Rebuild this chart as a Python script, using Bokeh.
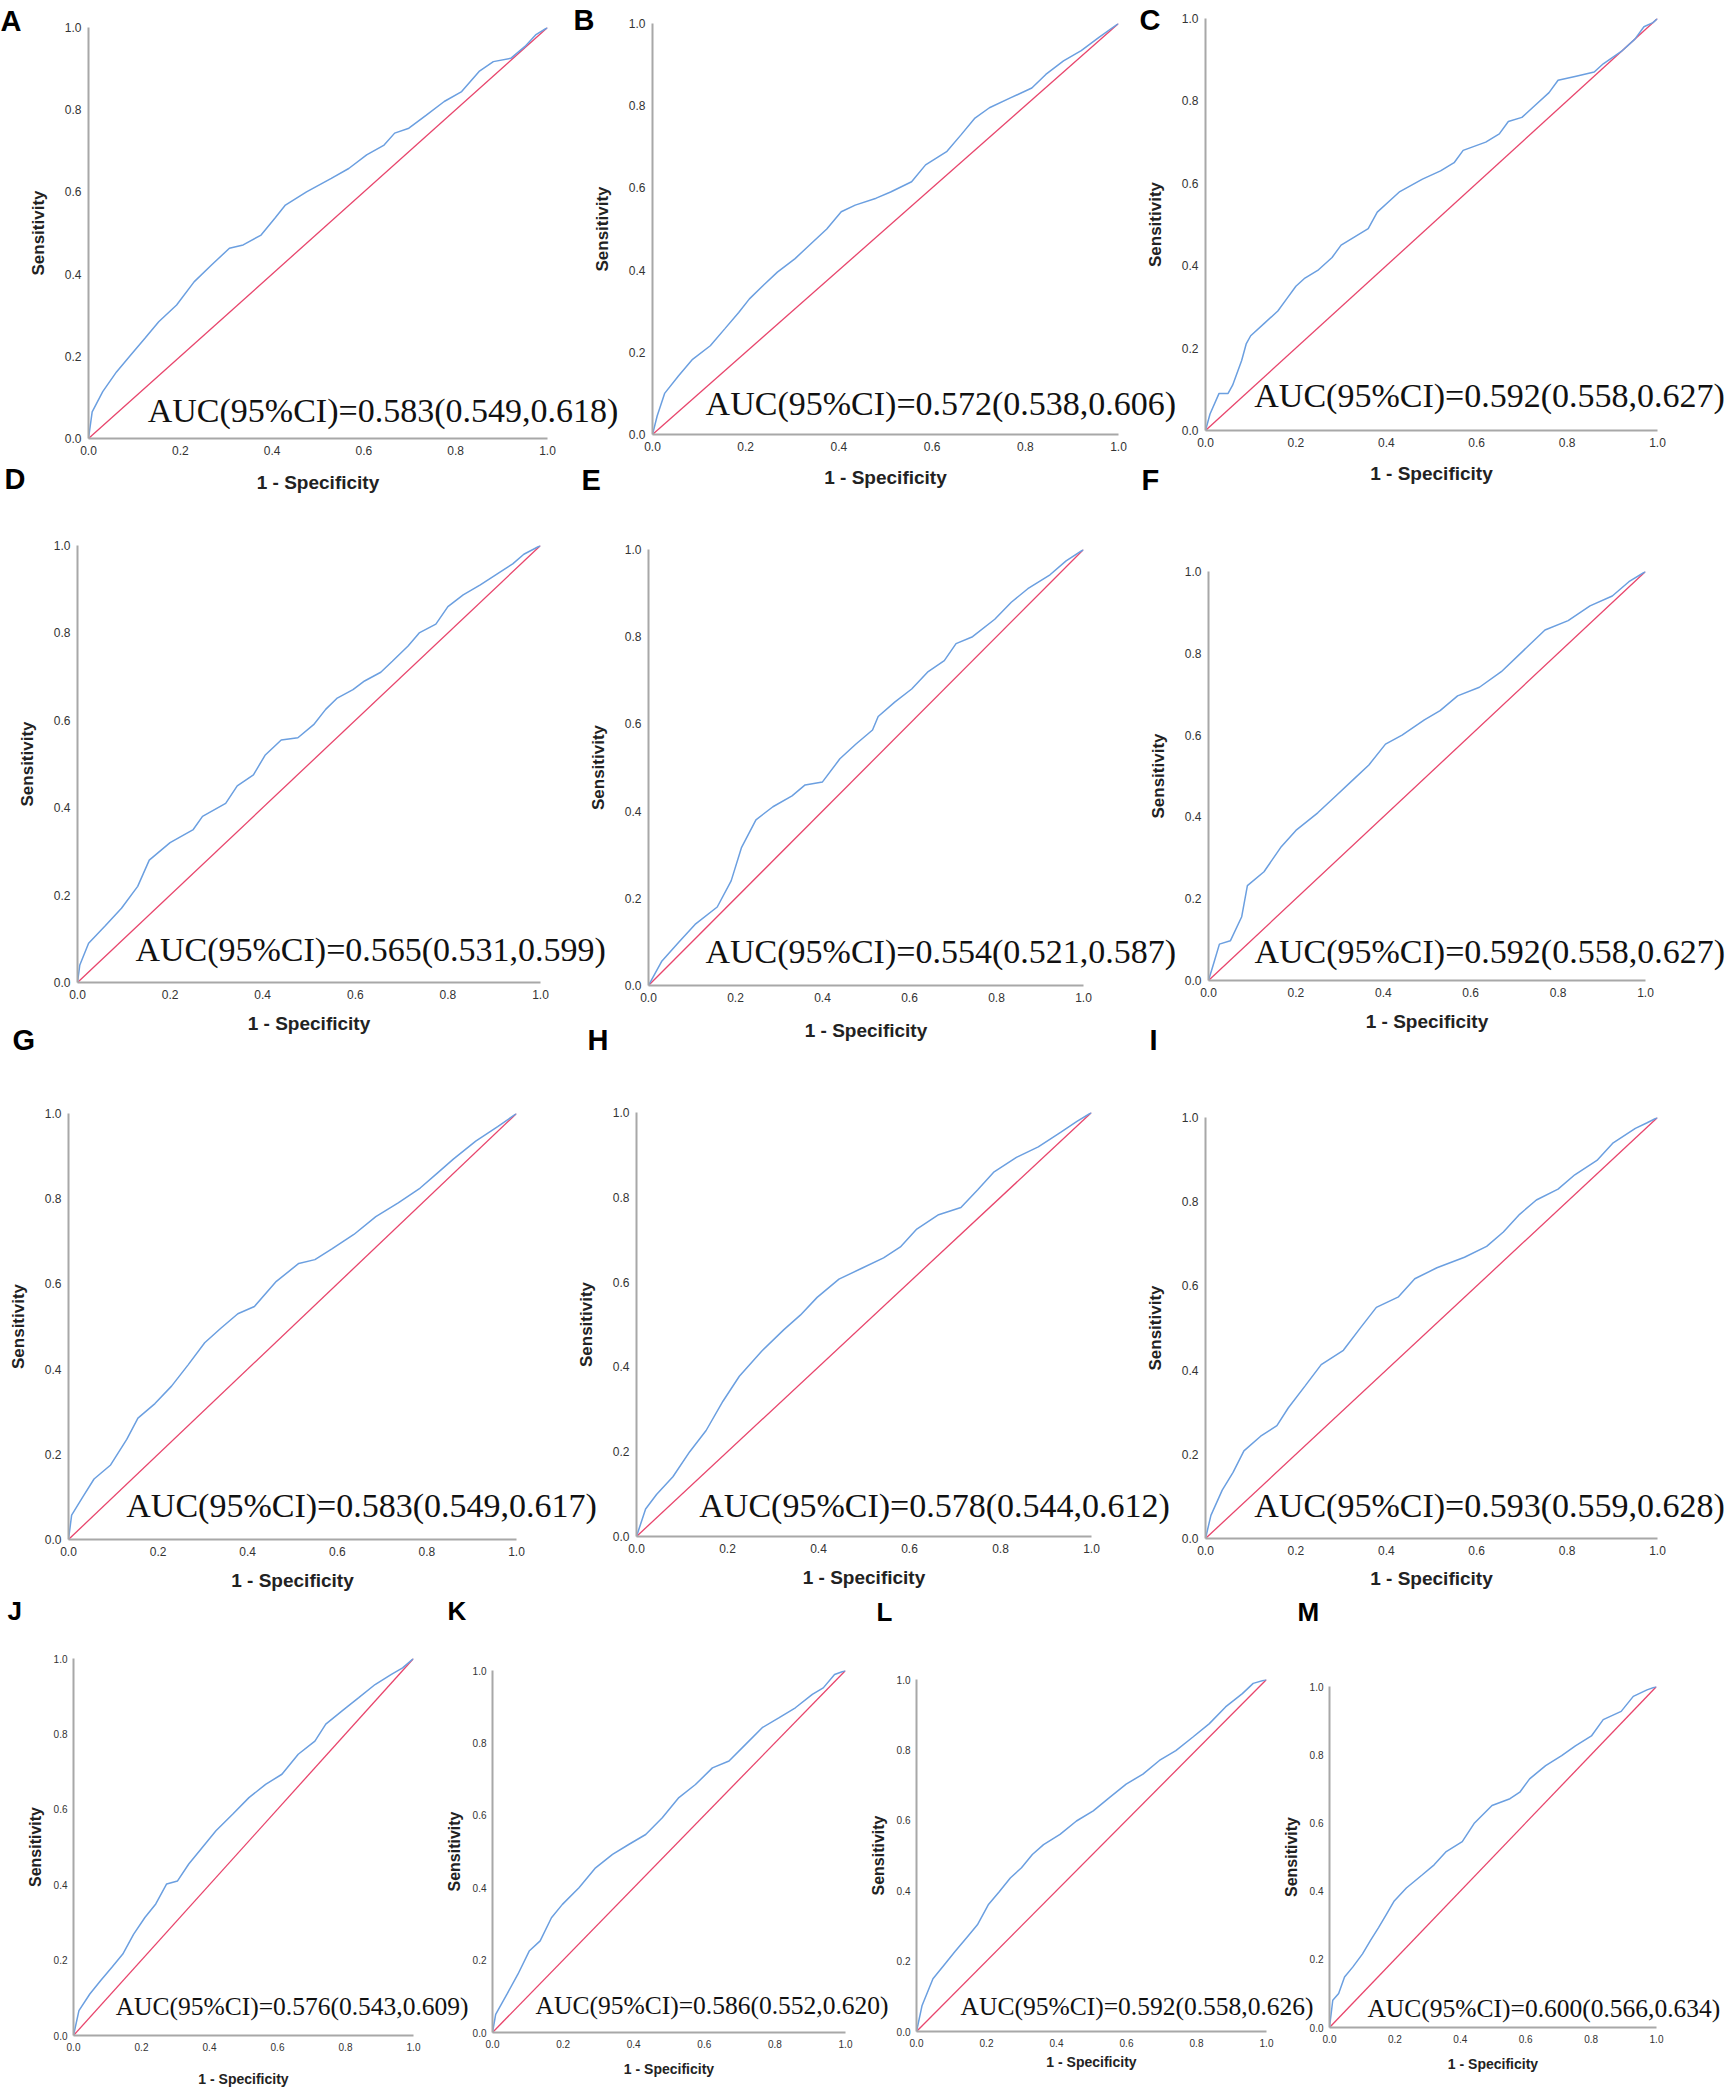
from bokeh.plotting import figure
from bokeh.models import Range1d, FixedTicker, NumeralTickFormatter, Label
from bokeh.layouts import column
from bokeh.embed import file_html
from bokeh.resources import INLINE

# ---------------- data ----------------
panel_names = ["A", "B", "C", "D", "E", "F", "G", "H", "I", "J", "K", "L", "M"]

auc_texts = [
    "AUC(95%CI)=0.583(0.549,0.618)",
    "AUC(95%CI)=0.572(0.538,0.606)",
    "AUC(95%CI)=0.592(0.558,0.627)",
    "AUC(95%CI)=0.565(0.531,0.599)",
    "AUC(95%CI)=0.554(0.521,0.587)",
    "AUC(95%CI)=0.592(0.558,0.627)",
    "AUC(95%CI)=0.583(0.549,0.617)",
    "AUC(95%CI)=0.578(0.544,0.612)",
    "AUC(95%CI)=0.593(0.559,0.628)",
    "AUC(95%CI)=0.576(0.543,0.609)",
    "AUC(95%CI)=0.586(0.552,0.620)",
    "AUC(95%CI)=0.592(0.558,0.626)",
    "AUC(95%CI)=0.600(0.566,0.634)",
]

tick_values = [0.0, 0.2, 0.4, 0.6, 0.8, 1.0]
ref_line = [0.0, 1.0]

A_x = [0, 0.008, 0.031, 0.061, 0.092, 0.123, 0.153, 0.192, 0.23, 0.268, 0.307, 0.337, 0.376, 0.406, 0.429, 0.475, 0.529, 0.567, 0.606, 0.644, 0.667, 0.698, 0.736, 0.775, 0.813, 0.851, 0.882, 0.92, 0.951, 0.974, 1.0]
A_y = [0, 0.065, 0.114, 0.162, 0.203, 0.244, 0.284, 0.325, 0.381, 0.422, 0.463, 0.471, 0.495, 0.536, 0.568, 0.60, 0.633, 0.657, 0.69, 0.714, 0.743, 0.755, 0.787, 0.82, 0.844, 0.893, 0.917, 0.925, 0.954, 0.982, 1.0]

B_x = [0, 0.01, 0.026, 0.056, 0.086, 0.124, 0.155, 0.185, 0.208, 0.238, 0.268, 0.306, 0.336, 0.374, 0.405, 0.435, 0.48, 0.511, 0.556, 0.586, 0.632, 0.662, 0.692, 0.723, 0.768, 0.814, 0.844, 0.882, 0.92, 0.958, 1.0]
B_y = [0, 0.045, 0.10, 0.143, 0.183, 0.216, 0.257, 0.297, 0.33, 0.363, 0.395, 0.428, 0.46, 0.50, 0.542, 0.558, 0.575, 0.59, 0.615, 0.656, 0.689, 0.729, 0.77, 0.795, 0.819, 0.843, 0.876, 0.909, 0.934, 0.966, 1.0]

C_x = [0, 0.01, 0.03, 0.05, 0.06, 0.08, 0.09, 0.1, 0.13, 0.16, 0.18, 0.2, 0.22, 0.25, 0.28, 0.3, 0.33, 0.36, 0.38, 0.41, 0.43, 0.48, 0.52, 0.55, 0.57, 0.62, 0.65, 0.67, 0.7, 0.73, 0.76, 0.78, 0.82, 0.86, 0.88, 0.92, 0.95, 0.97, 0.99, 1.0]
C_y = [0, 0.04, 0.09, 0.09, 0.11, 0.17, 0.21, 0.23, 0.26, 0.29, 0.32, 0.35, 0.37, 0.39, 0.42, 0.45, 0.47, 0.49, 0.53, 0.56, 0.58, 0.61, 0.63, 0.65, 0.68, 0.70, 0.72, 0.75, 0.76, 0.79, 0.82, 0.85, 0.86, 0.87, 0.89, 0.92, 0.95, 0.98, 0.99, 1.0]

D_x = [0, 0.005, 0.024, 0.06, 0.095, 0.13, 0.155, 0.2, 0.25, 0.27, 0.32, 0.345, 0.38, 0.405, 0.44, 0.476, 0.51, 0.536, 0.56, 0.595, 0.62, 0.655, 0.68, 0.714, 0.738, 0.774, 0.8, 0.833, 0.87, 0.905, 0.94, 0.964, 1.0]
D_y = [0, 0.04, 0.09, 0.13, 0.17, 0.22, 0.28, 0.32, 0.35, 0.38, 0.41, 0.45, 0.475, 0.52, 0.555, 0.56, 0.59, 0.625, 0.65, 0.67, 0.69, 0.71, 0.735, 0.77, 0.80, 0.82, 0.86, 0.887, 0.91, 0.934, 0.958, 0.98, 1.0]

E_x = [0, 0.03, 0.07, 0.107, 0.158, 0.19, 0.214, 0.247, 0.286, 0.33, 0.36, 0.40, 0.44, 0.477, 0.515, 0.528, 0.566, 0.605, 0.643, 0.68, 0.707, 0.745, 0.796, 0.834, 0.872, 0.923, 0.96, 1.0]
E_y = [0, 0.055, 0.10, 0.14, 0.18, 0.24, 0.317, 0.38, 0.41, 0.435, 0.46, 0.467, 0.52, 0.554, 0.586, 0.617, 0.65, 0.68, 0.72, 0.745, 0.784, 0.80, 0.84, 0.879, 0.91, 0.942, 0.974, 1.0]

F_x = [0, 0.013, 0.025, 0.05, 0.076, 0.089, 0.127, 0.165, 0.2, 0.25, 0.29, 0.33, 0.367, 0.405, 0.443, 0.494, 0.53, 0.57, 0.62, 0.67, 0.72, 0.77, 0.823, 0.873, 0.924, 0.962, 1.0]
F_y = [0, 0.046, 0.089, 0.097, 0.156, 0.232, 0.266, 0.325, 0.367, 0.41, 0.45, 0.49, 0.527, 0.578, 0.60, 0.637, 0.66, 0.696, 0.717, 0.755, 0.806, 0.857, 0.88, 0.916, 0.94, 0.975, 1.0]

G_x = [0, 0.007, 0.032, 0.057, 0.094, 0.13, 0.155, 0.193, 0.23, 0.267, 0.304, 0.34, 0.378, 0.415, 0.464, 0.514, 0.55, 0.588, 0.637, 0.686, 0.736, 0.785, 0.822, 0.859, 0.909, 0.958, 1.0]
G_y = [0, 0.057, 0.10, 0.142, 0.175, 0.235, 0.285, 0.319, 0.36, 0.41, 0.462, 0.496, 0.53, 0.547, 0.606, 0.648, 0.657, 0.682, 0.716, 0.758, 0.79, 0.825, 0.859, 0.893, 0.935, 0.969, 1.0]

H_x = [0, 0.02, 0.044, 0.08, 0.117, 0.153, 0.19, 0.226, 0.275, 0.324, 0.36, 0.397, 0.445, 0.494, 0.543, 0.58, 0.616, 0.664, 0.713, 0.75, 0.786, 0.835, 0.883, 0.932, 0.968, 1.0]
H_y = [0, 0.065, 0.099, 0.141, 0.20, 0.25, 0.319, 0.378, 0.437, 0.488, 0.522, 0.564, 0.607, 0.632, 0.657, 0.683, 0.725, 0.759, 0.776, 0.818, 0.86, 0.894, 0.919, 0.953, 0.979, 1.0]

I_x = [0, 0.012, 0.037, 0.061, 0.085, 0.122, 0.158, 0.183, 0.22, 0.256, 0.305, 0.341, 0.378, 0.427, 0.463, 0.512, 0.573, 0.622, 0.659, 0.695, 0.732, 0.78, 0.817, 0.866, 0.902, 0.951, 0.976, 1.0]
I_y = [0, 0.055, 0.115, 0.157, 0.208, 0.243, 0.268, 0.31, 0.362, 0.413, 0.447, 0.498, 0.549, 0.574, 0.617, 0.643, 0.668, 0.694, 0.728, 0.77, 0.804, 0.83, 0.864, 0.898, 0.94, 0.974, 0.987, 1.0]

J_x = [0, 0.016, 0.048, 0.08, 0.113, 0.145, 0.177, 0.21, 0.242, 0.274, 0.306, 0.339, 0.371, 0.419, 0.468, 0.516, 0.565, 0.613, 0.661, 0.71, 0.742, 0.79, 0.839, 0.887, 0.935, 0.968, 1.0]
J_y = [0, 0.066, 0.11, 0.146, 0.181, 0.216, 0.269, 0.313, 0.349, 0.402, 0.41, 0.455, 0.49, 0.543, 0.587, 0.631, 0.666, 0.693, 0.746, 0.781, 0.826, 0.861, 0.896, 0.931, 0.958, 0.975, 1.0]

K_x = [0, 0.009, 0.041, 0.072, 0.104, 0.135, 0.167, 0.198, 0.245, 0.292, 0.34, 0.387, 0.434, 0.481, 0.528, 0.575, 0.623, 0.67, 0.717, 0.764, 0.811, 0.858, 0.906, 0.937, 0.969, 1.0]
K_y = [0, 0.05, 0.106, 0.161, 0.225, 0.253, 0.317, 0.354, 0.40, 0.455, 0.492, 0.52, 0.547, 0.593, 0.649, 0.685, 0.731, 0.75, 0.796, 0.842, 0.869, 0.897, 0.934, 0.952, 0.989, 1.0]

L_x = [0, 0.016, 0.047, 0.079, 0.11, 0.142, 0.174, 0.205, 0.237, 0.268, 0.30, 0.331, 0.363, 0.41, 0.457, 0.505, 0.552, 0.599, 0.647, 0.694, 0.741, 0.789, 0.836, 0.883, 0.931, 0.962, 1.0]
L_y = [0, 0.074, 0.15, 0.189, 0.227, 0.265, 0.303, 0.36, 0.398, 0.436, 0.465, 0.503, 0.531, 0.56, 0.598, 0.627, 0.665, 0.703, 0.731, 0.77, 0.798, 0.836, 0.874, 0.922, 0.96, 0.989, 1.0]

M_x = [0, 0.01, 0.028, 0.046, 0.071, 0.101, 0.125, 0.15, 0.174, 0.198, 0.235, 0.284, 0.32, 0.357, 0.406, 0.442, 0.497, 0.552, 0.582, 0.612, 0.661, 0.71, 0.752, 0.801, 0.837, 0.892, 0.929, 0.971, 1.0]
M_y = [0, 0.08, 0.10, 0.148, 0.177, 0.216, 0.255, 0.293, 0.332, 0.371, 0.409, 0.448, 0.477, 0.516, 0.545, 0.598, 0.651, 0.671, 0.69, 0.729, 0.768, 0.797, 0.826, 0.855, 0.903, 0.927, 0.971, 0.99, 1.0]

curves_x = [A_x, B_x, C_x, D_x, E_x, F_x, G_x, H_x, I_x, J_x, K_x, L_x, M_x]
curves_y = [A_y, B_y, C_y, D_y, E_y, F_y, G_y, H_y, I_y, J_y, K_y, L_y, M_y]

# ---------------- layout (page pixels: left, right, top, bottom of each plot frame) ----------------
frames = [
    (88, 547, 27, 438), (652, 1118, 23, 434), (1205, 1657, 18, 430),
    (77, 540, 545, 982), (648, 1083, 549, 985), (1208, 1645, 571, 980),
    (68, 516, 1113, 1539), (636, 1091, 1112, 1536), (1205, 1657, 1117, 1538),
    (73, 413, 1658, 2035), (492, 845, 1670, 2032), (916, 1266, 1679, 2031),
    (1329, 1656, 1686, 2027),
]
# AUC annotation anchor (in data units of each panel: left edge / baseline)
auc_pos = [
    (0.129, 0.039), (0.114, 0.046), (0.108, 0.056),
    (0.125, 0.048), (0.131, 0.050), (0.105, 0.042),
    (0.129, 0.052), (0.138, 0.045), (0.108, 0.050),
    (0.124, 0.053), (0.122, 0.049), (0.126, 0.045), (0.116, 0.030),
]
# panel letter: page pixel left edge and baseline
letter_px = [
    (0, 31), (573, 30), (1139, 30),
    (4, 489), (581, 490), (1141, 490),
    (12, 1050), (587, 1050), (1149, 1050),
    (7, 1620), (447, 1620), (876, 1621), (1297, 1621),
]
xlabel_standoff = [14, 13, 13, 11, 15, 11, 11, 11, 10, 17, 10, 4, 10]

W, H = 1727, 2091
BASELINE_FIX = 0.36   # measured drift of the svg alphabetic baseline, as a fraction of font size

BLUE = "#6b9fe0"
RED = "#e8456c"
AXIS = "#a8a8a8"

figs = []
for i, name in enumerate(panel_names):
    x0, x1, yt, yb = frames[i]
    small = name in "JKLM"
    p = figure(width=W, height=H, x_range=Range1d(0, 1), y_range=Range1d(0, 1),
               output_backend="svg", toolbar_location=None,
               min_border_left=x0, min_border_right=W - x1,
               min_border_top=yt, min_border_bottom=H - yb)
    p.frame_align = False
    p.background_fill_color = None
    p.border_fill_color = None
    p.outline_line_color = None
    p.grid.visible = False

    p.xaxis.axis_label = "1 - Specificity"
    p.yaxis.axis_label = "Sensitivity"
    for ax in (p.xaxis[0], p.yaxis[0]):
        ax.ticker = FixedTicker(ticks=tick_values)
        ax.formatter = NumeralTickFormatter(format="0.0")
        ax.axis_line_color = AXIS
        ax.axis_line_width = 2
        ax.major_tick_line_color = None
        ax.minor_tick_line_color = None
        ax.major_label_text_font = "Liberation Sans"
        ax.major_label_text_color = "#333333"
        ax.major_label_text_font_size = "10px" if small else "12px"
        ax.axis_label_text_font = "Liberation Sans"
        ax.axis_label_text_font_style = "bold"
        ax.axis_label_text_color = "#222222"
    p.xaxis.major_label_standoff = 1
    p.yaxis.major_label_standoff = 0 if small else 1
    p.xaxis.axis_label_text_font_size = "14px" if small else "19px"
    p.yaxis.axis_label_text_font_size = "16px" if small else "17px"
    p.xaxis.axis_label_standoff = xlabel_standoff[i]
    p.yaxis.axis_label_standoff = 7 if small else 14

    p.line(ref_line, ref_line, line_color=RED, line_width=1.3)
    p.line(curves_x[i], curves_y[i], line_color=BLUE, line_width=1.5)

    if i > 0:
        p.styles = {"margin-top": f"-{H}px"}
    figs.append(p)

# transparent overlay (page-pixel frame) carrying the panel letters and AUC texts,
# so that texts may run past their panel frames as in the original figure
ov = figure(width=W, height=H, x_range=Range1d(0, W), y_range=Range1d(H, 0),
            x_axis_type=None, y_axis_type=None, output_backend="svg",
            toolbar_location=None, min_border=0)
ov.frame_align = False
ov.background_fill_color = None
ov.border_fill_color = None
ov.outline_line_color = None
ov.grid.visible = False
for i, name in enumerate(panel_names):
    x0, x1, yt, yb = frames[i]
    small = name in "JKLM"
    ax_, ay_ = auc_pos[i]
    fs = 25.5 if small else 34
    tx = x0 + ax_ * (x1 - x0)
    ty = yb - ay_ * (yb - yt) - BASELINE_FIX * fs
    ov.add_layout(Label(x=tx, y=ty, text=auc_texts[i], text_font="Liberation Serif",
                        text_font_size=f"{fs}px", text_color="#111111",
                        text_align="left", text_baseline="alphabetic"))
    lx, lb = letter_px[i]
    lfs = 26 if small else 29
    ov.add_layout(Label(x=lx, y=lb - BASELINE_FIX * lfs, text=name, text_font="Liberation Sans",
                        text_font_style="bold", text_font_size=f"{lfs}px",
                        text_color="#000000", text_align="left", text_baseline="alphabetic"))
ov.styles = {"margin-top": f"-{H}px"}
figs.append(ov)

layout = column(*figs, spacing=0)
open("out.html", "w").write(file_html(layout, INLINE))
